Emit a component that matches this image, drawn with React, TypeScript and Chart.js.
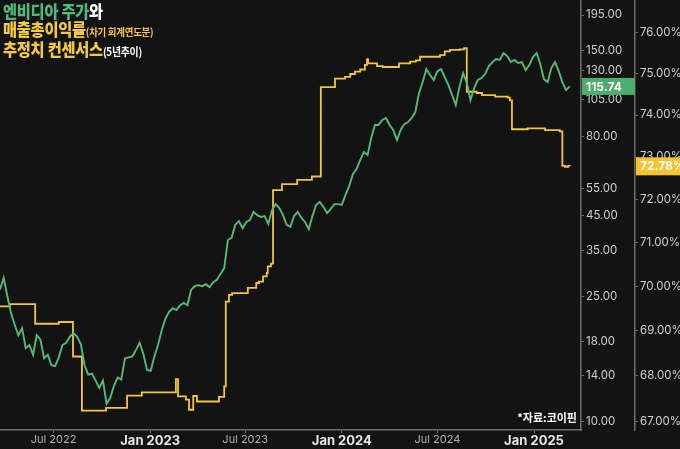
import React, { useEffect, useRef } from 'react';
import { Chart, registerables } from 'chart.js';

Chart.register(...registerables);

const DAY_MS = 86400000;

// Nvidia share price (USD), weekly values starting from this date
const priceStartDate = '2022-03-21';
const weeklyPrices = [
  26.2, 28.6, 25.0, 22.1, 20.3, 18.8, 19.8, 17.1, 17.5, 16.3,
  18.8, 18.2, 15.9, 16.3, 15.1, 15.0, 16.0, 17.5, 17.8, 18.6,
  19.1, 18.6, 17.6, 15.1, 14.1, 14.2, 13.5, 12.8, 13.5, 11.4,
  11.9, 13.0, 13.8, 13.6, 15.9, 16.0, 16.1, 16.9, 17.8, 16.4,
  14.6, 14.5, 16.1, 17.5, 19.5, 21.2, 22.3, 22.9, 22.6, 23.4,
  23.8, 23.4, 26.2, 26.9, 27.1, 26.9, 27.3, 26.7, 27.7, 28.2,
  29.4, 30.7, 37.7, 38.3, 42.1, 43.3, 41.1, 43.0, 43.6, 46.3,
  45.2, 44.6, 44.9, 42.4, 46.9, 49.0, 47.6, 45.2, 42.1, 41.5,
  44.9, 46.3, 44.3, 43.0, 40.8, 44.9, 48.7, 49.8, 48.0, 45.9,
  47.3, 49.0, 49.0, 48.7, 52.4, 55.9, 61.0, 63.3, 67.6, 71.7,
  70.1, 79.4, 87.3, 87.3, 90.6, 91.9, 87.3, 84.2, 78.2, 84.2,
  87.9, 89.2, 91.9, 96.0, 110.3, 119.5, 131.4, 125.8, 121.3, 129.5,
  131.4, 123.9, 116.9, 108.7, 101.0, 115.2, 127.6, 118.7, 104.8, 114.3,
  121.3, 123.0, 126.7, 134.3, 138.3, 141.4, 140.4, 147.7, 144.5, 138.3,
  140.4, 137.3, 138.3, 130.4, 135.3, 143.5, 147.7, 136.3, 122.1, 119.5,
  132.4, 138.3, 129.5, 119.5, 112.7, 115.74,
];

// Gross margin consensus (next fiscal year, %): each value holds from its date
const marginDates = [
  '2022-03-21', '2022-04-09', '2022-05-27', '2022-07-11', '2022-08-07', '2022-08-24',
  '2022-10-09', '2022-11-18', '2022-12-16', '2023-02-19', '2023-02-23', '2023-03-10',
  '2023-03-16', '2023-03-24', '2023-03-31', '2023-05-12', '2023-05-22', '2023-05-25',
  '2023-05-31', '2023-06-06', '2023-07-06', '2023-07-22', '2023-07-27', '2023-08-04',
  '2023-08-11', '2023-08-13', '2023-08-19', '2023-08-23', '2023-09-09', '2023-10-08',
  '2023-11-05', '2023-11-22', '2023-12-19', '2024-01-07', '2024-01-17', '2024-01-26',
  '2024-02-05', '2024-02-14', '2024-02-18', '2024-02-20', '2024-03-08', '2024-03-19',
  '2024-04-19', '2024-05-10', '2024-05-21', '2024-05-29', '2024-07-06', '2024-07-15',
  '2024-07-25', '2024-08-13', '2024-08-21', '2024-08-26', '2024-09-14', '2024-09-24',
  '2024-10-19', '2024-11-12', '2024-11-16', '2024-11-20', '2024-12-20', '2025-01-22',
  '2025-02-19', '2025-02-24', '2025-03-01', '2025-03-07', '2025-03-10',
];
const marginValues = [
  69.55, 69.60, 69.16, 69.20, 68.43, 67.24,
  67.30, 67.57, 67.64, 67.93, 67.55, 67.48,
  67.26, 67.56, 67.44, 67.54, 67.77, 69.66,
  69.81, 69.85, 69.97, 70.08, 70.11, 70.23,
  70.31, 70.46, 70.52, 72.22, 72.36, 72.46,
  72.54, 74.67, 74.88, 74.92, 74.99, 75.05,
  75.10, 75.21, 75.35, 75.25, 75.18, 75.16,
  75.25, 75.29, 75.32, 75.41, 75.45, 75.54,
  75.58, 75.59, 75.62, 74.56, 74.53, 74.48,
  74.44, 74.42, 74.35, 73.66, 73.68, 73.64,
  73.61, 72.79, 72.77, 72.79, 72.78,
];

const priceTickValues = [10, 14, 18, 25, 35, 45, 55, 80, 105, 130, 150, 195];
const marginTickValues = [67, 68, 69, 70, 71, 72, 73, 74, 75, 76];
const xTickDates = ['2022-07-01', '2023-01-01', '2023-07-01', '2024-01-01', '2024-07-01', '2025-01-01'];
const xTickLabels = ['Jul 2022', 'Jan 2023', 'Jul 2023', 'Jan 2024', 'Jul 2024', 'Jan 2025'];

const xMinDate = '2022-03-21';
const xMaxDate = '2025-03-31';
const priceRange = [9.41, 217.6];
const marginRange = [66.82, 76.81];

const BG = '#131313';
const GREEN = '#58b977';
const YELLOW = '#f2c53d';
const GREEN_BADGE = '#4cad6c';
const YELLOW_BADGE = '#f4c431';
const AXIS = '#6e6e6e';
const FONT = 'Inter, "Noto Sans", sans-serif';

const toMs = (s: string) => Date.parse(s + 'T00:00:00Z');

const badgePlugin = {
  id: 'lastValueBadges',
  afterDraw(chart: any) {
    const ctx = chart.ctx;
    const yP = chart.scales.yPrice;
    const yM = chart.scales.yPct;
    const lastPrice = weeklyPrices[weeklyPrices.length - 1];
    const lastMargin = marginValues[marginValues.length - 1];
    ctx.save();
    ctx.textBaseline = 'middle';
    ctx.textAlign = 'left';
    ctx.font = `bold 12px ${FONT}`;
    const py = yP.getPixelForValue(lastPrice);
    ctx.fillStyle = GREEN_BADGE;
    ctx.fillRect(yP.left + 1, py - 8.5, yP.right - yP.left - 1, 17);
    ctx.fillStyle = '#ffffff';
    ctx.fillText(lastPrice.toFixed(2), yP.left + 5, py + 0.5);
    const my = yM.getPixelForValue(lastMargin);
    ctx.fillStyle = YELLOW_BADGE;
    ctx.fillRect(yM.left + 1, my - 9, chart.width - yM.left - 1, 18);
    ctx.fillStyle = '#ffffff';
    ctx.fillText(lastMargin.toFixed(2) + '%', yM.left + 5, my + 0.5);
    ctx.restore();
  },
};

export default function App() {
  const canvasRef = useRef<HTMLCanvasElement | null>(null);

  useEffect(() => {
    const canvas = canvasRef.current;
    if (!canvas) return;
    const start = toMs(priceStartDate);
    const priceData = weeklyPrices.map((v, i) => ({ x: start + i * 7 * DAY_MS, y: v }));
    const marginData = marginDates.map((d, i) => ({ x: toMs(d), y: marginValues[i] }));
    const zeroPad = (s: any) => {
      s.paddingTop = 0;
      s.paddingBottom = 0;
      s.paddingLeft = 0;
      s.paddingRight = 0;
    };

    const chart = new Chart(canvas, {
      type: 'line',
      data: {
        datasets: [
          {
            label: 'price',
            data: priceData,
            yAxisID: 'yPrice',
            borderColor: GREEN,
            borderWidth: 1.9,
            pointRadius: 0,
            tension: 0,
            fill: false,
          },
          {
            label: 'margin',
            data: marginData,
            yAxisID: 'yPct',
            borderColor: YELLOW,
            borderWidth: 1.8,
            pointRadius: 0,
            stepped: true,
            fill: false,
          },
        ],
      },
      options: {
        animation: false,
        responsive: false,
        devicePixelRatio: 1,
        layout: { padding: 0 },
        plugins: { legend: { display: false }, tooltip: { enabled: false }, title: { display: false } },
        scales: {
          x: {
            type: 'linear',
            position: 'bottom',
            min: toMs(xMinDate),
            max: toMs(xMaxDate) + DAY_MS / 2,
            border: { display: true, color: AXIS, width: 1.5 },
            grid: { display: true, drawOnChartArea: false, tickLength: 3, color: AXIS },
            afterBuildTicks: (s: any) => {
              s.ticks = xTickDates.map((d) => ({ value: toMs(d) }));
            },
            afterFit: (s: any) => {
              s.height = 19;
              zeroPad(s);
            },
            ticks: {
              autoSkip: false,
              maxRotation: 0,
              padding: 0,
              callback: (_v: any, i: number) => xTickLabels[i],
              color: (c: any) => (xTickLabels[c.index] || '').startsWith('Jan') ? '#e6e6e6' : '#b4b4b4',
              font: (c: any) =>
                (xTickLabels[c.index] || '').startsWith('Jan')
                  ? { family: FONT, size: 13, weight: 'bold' }
                  : { family: FONT, size: 11, weight: 'normal' },
            },
          },
          yPrice: {
            type: 'logarithmic',
            position: 'right',
            weight: 0,
            min: priceRange[0],
            max: priceRange[1],
            border: { display: true, color: AXIS, width: 1.5 },
            grid: { display: true, drawOnChartArea: false, tickLength: 3, color: AXIS },
            afterBuildTicks: (s: any) => {
              s.ticks = priceTickValues.map((v) => ({ value: v }));
            },
            afterFit: (s: any) => {
              s.width = 54;
              zeroPad(s);
            },
            ticks: {
              padding: 2,
              color: '#cfcfcf',
              font: { family: FONT, size: 11.5 },
              callback: (v: any) => Number(v).toFixed(2),
            },
          },
          yPct: {
            type: 'logarithmic',
            position: 'right',
            weight: 1,
            min: marginRange[0],
            max: marginRange[1],
            border: { display: true, color: AXIS, width: 1.5 },
            grid: { display: true, drawOnChartArea: false, tickLength: 3, color: AXIS },
            afterBuildTicks: (s: any) => {
              s.ticks = marginTickValues.map((v) => ({ value: v }));
            },
            afterFit: (s: any) => {
              s.width = 45;
              zeroPad(s);
            },
            ticks: {
              padding: 2,
              color: '#cfcfcf',
              font: { family: FONT, size: 11.5 },
              callback: (v: any) => Number(v).toFixed(2) + '%',
            },
          },
        },
      },
      plugins: [badgePlugin],
    } as any);

    return () => chart.destroy();
  }, []);

  return (
    <div style={{ position: 'absolute', left: 0, top: 0, width: 680, height: 449, background: BG, overflow: 'hidden' }}>
      <canvas ref={canvasRef} width={680} height={449} style={{ display: 'block', width: 680, height: 449 }} />
      <div
        style={{
          position: 'absolute',
          left: 3,
          top: 2,
          fontFamily: '"Noto Sans CJK KR", sans-serif',
          fontWeight: 900,
          fontSize: 17,
          lineHeight: '17.5px',
          letterSpacing: '-0.3px',
          transform: 'scaleX(0.9)',
          transformOrigin: 'left top',
          whiteSpace: 'nowrap',
        }}
      >
        <div>
          <span style={{ color: '#52b97c' }}>엔비디아 주가</span>
          <span style={{ color: '#ffffff' }}>와</span>
        </div>
        <div style={{ color: '#f5c842' }}>
          매출총이익률<span style={{ fontSize: 10.5, fontWeight: 700 }}>(차기 회계연도분)</span>
        </div>
        <div style={{ color: '#f5c842' }}>
          추정치 컨센서스<span style={{ fontSize: 11, fontWeight: 700, color: '#ffffff' }}>(5년추이)</span>
        </div>
      </div>
      <div
        style={{
          position: 'absolute',
          right: 103,
          top: 410,
          color: '#ffffff',
          fontFamily: '"Noto Sans CJK KR", sans-serif',
          fontWeight: 700,
          fontSize: 11,
          lineHeight: '14px',
          whiteSpace: 'nowrap',
        }}
      >
        *자료:코이핀
      </div>
    </div>
  );
}
